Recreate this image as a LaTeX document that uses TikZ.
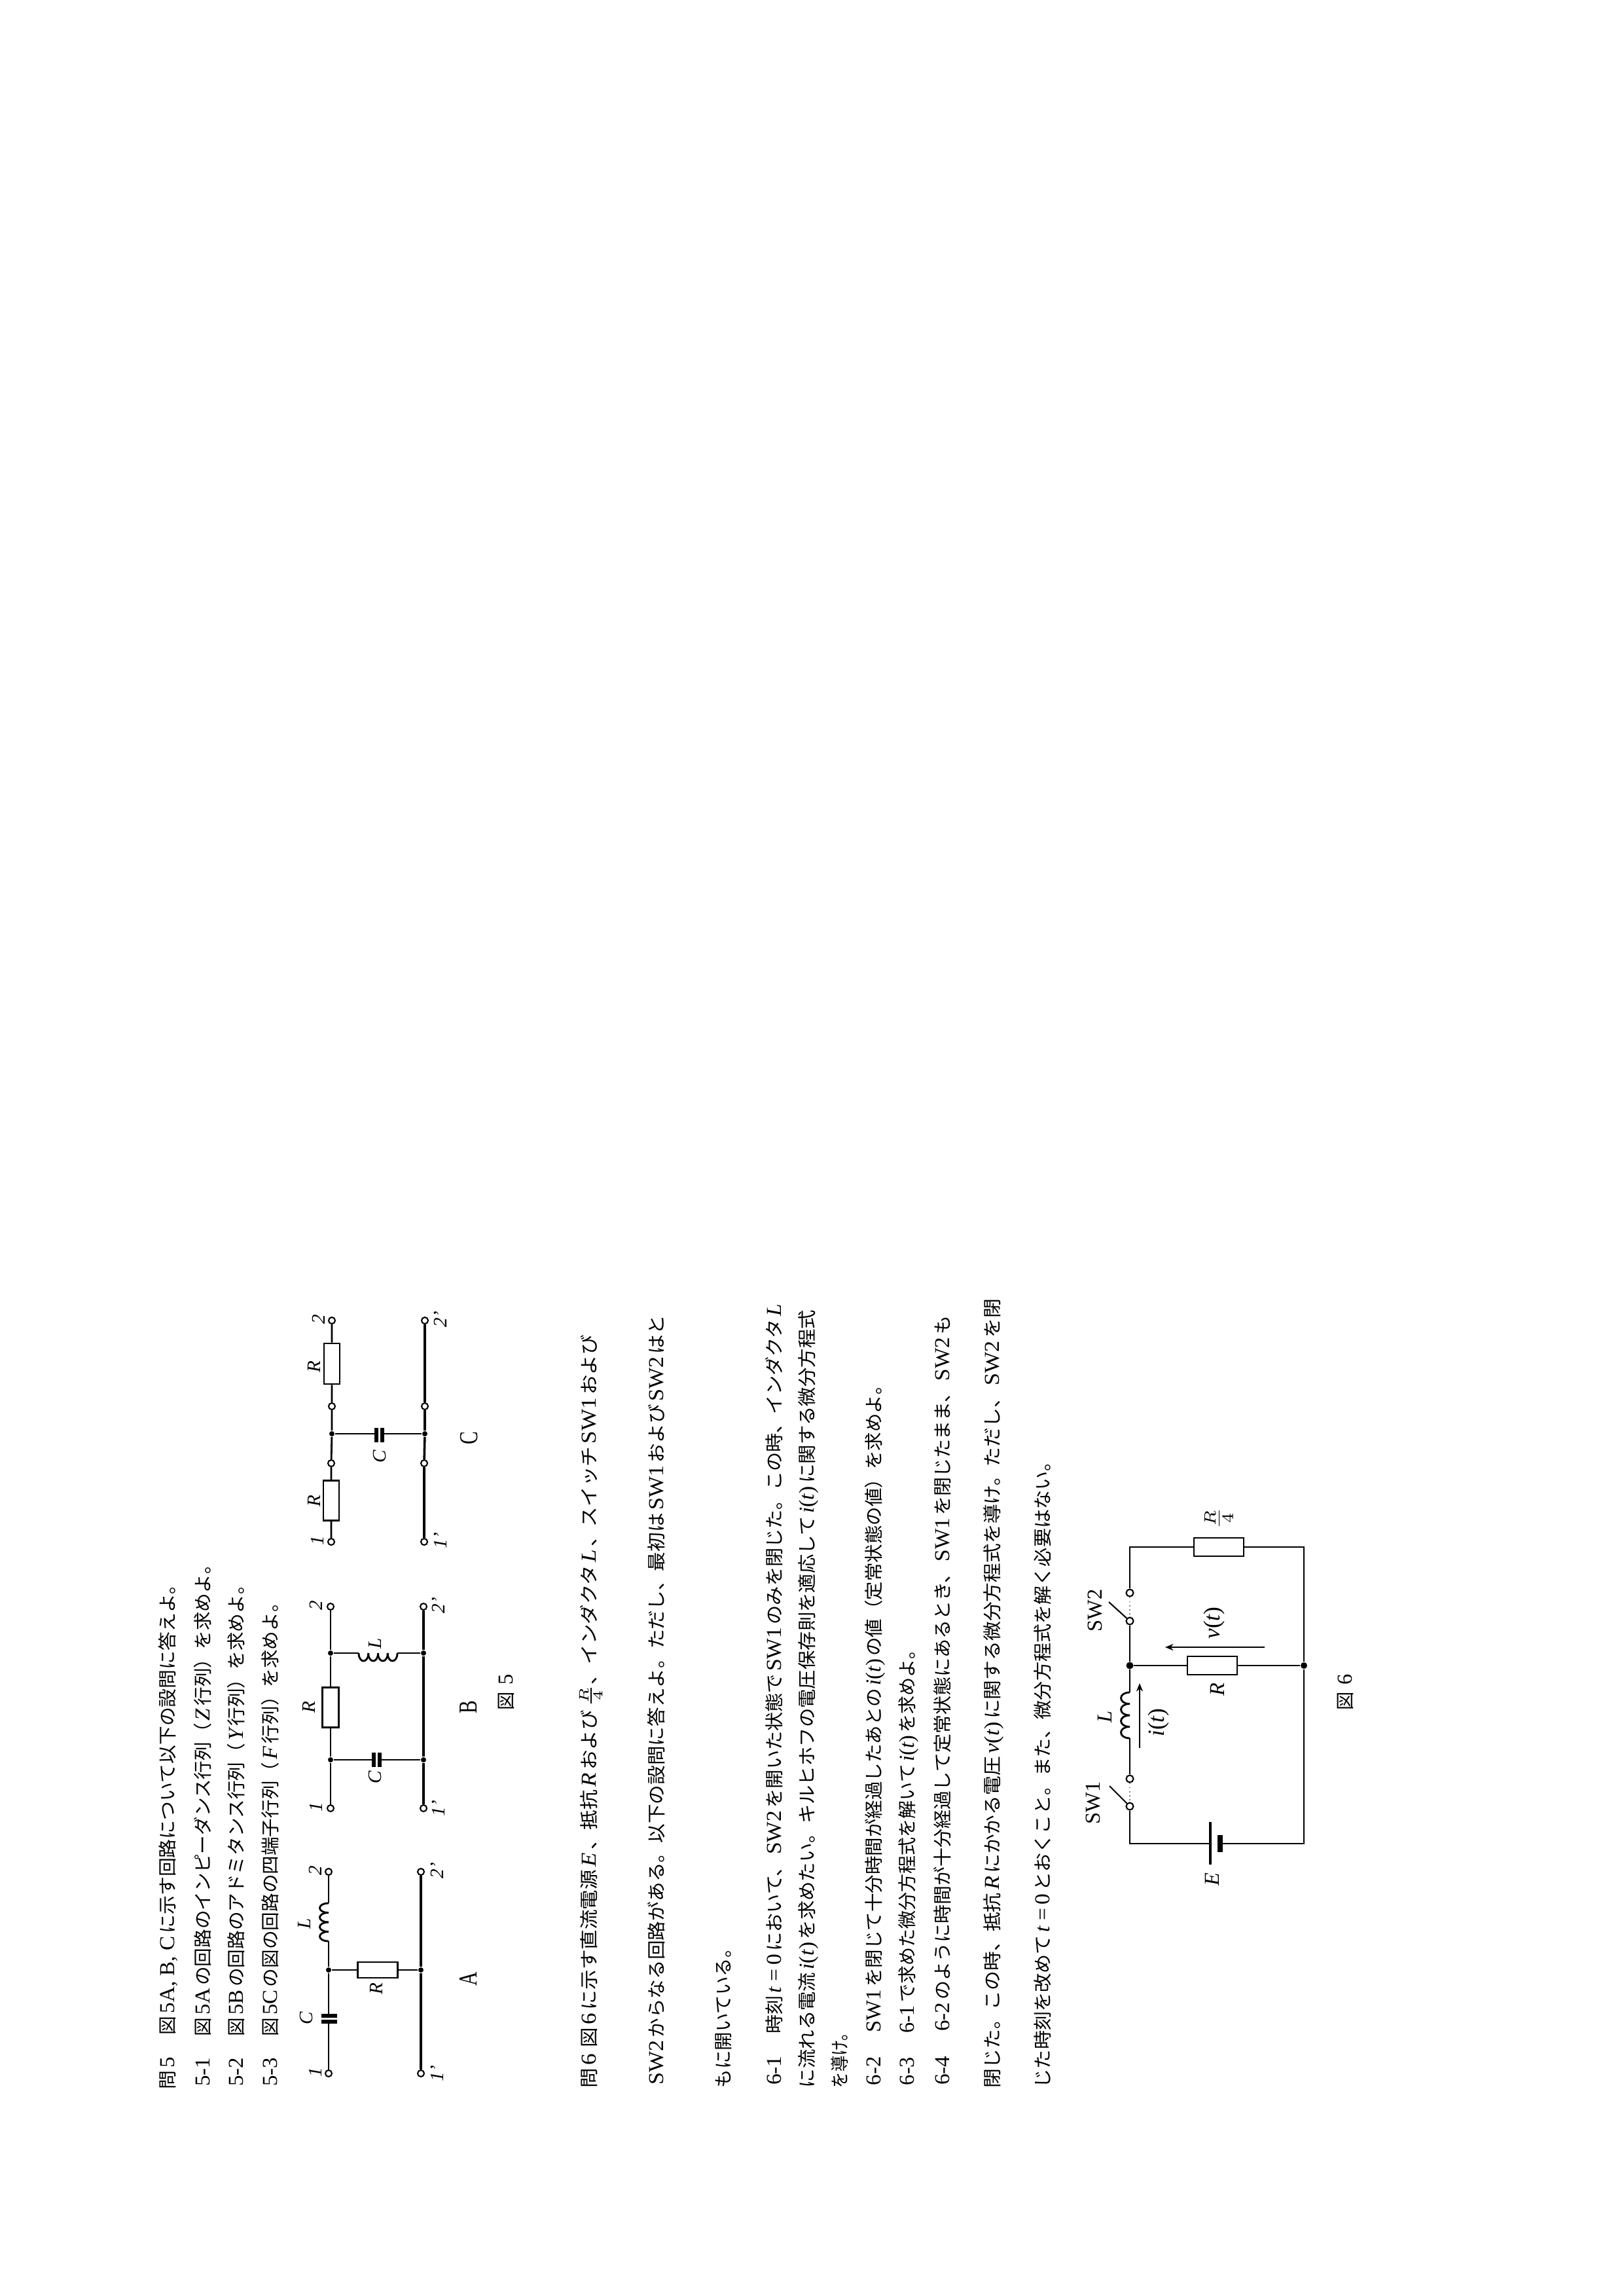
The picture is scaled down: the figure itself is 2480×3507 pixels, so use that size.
\documentclass[tikz,border=0pt]{standalone}
\usepackage{graphicx}
\usepackage{fontspec}
\usetikzlibrary{arrows.meta}
\setmainfont{Liberation Serif}
\newfontfamily\jp{Noto Sans CJK JP}
\newdimen\pxu \pxu=0.24pt
\newcommand\lat[1]{\hspace{1pt}{\rmfamily\fontsize{7.8pt}{8pt}\selectfont #1}\hspace{1pt}}
\newcommand\lit[1]{{\rmfamily\itshape #1}}
\newcommand\litx[1]{\hspace{1pt}{\rmfamily\itshape\fontsize{7.8pt}{8pt}\selectfont #1}\hspace{1pt}}
\newcommand\fn[1]{\hspace{1pt}{\rmfamily\fontsize{7.8pt}{8pt}\selectfont\textit{#1}(\textit{t})}\hspace{1pt}}
\newcommand\vcoil[5]{% x, y1, y2, n, bulge
  \pgfmathsetmacro\cw{(#3-#2)/#4}
  \foreach \i in {1,...,#4}{
    \draw[wire] ({#1},{#2+(\i-1)*\cw}) .. controls ({#1+#5},{#2+(\i-1)*\cw}) and ({#1+#5},{#2+\i*\cw}) .. ({#1},{#2+\i*\cw});
  }}
\newcommand\hcoil[5]{% y, x1, x2, n, bulge
  \pgfmathsetmacro\cw{(#3-#2)/#4}
  \foreach \i in {1,...,#4}{
    \draw[wire] ({#2+(\i-1)*\cw},{#1}) .. controls ({#2+(\i-1)*\cw},{#1+#5}) and ({#2+\i*\cw},{#1+#5}) .. ({#2+\i*\cw},{#1});
  }}
\tikzset{
  x=0.24pt,y=-0.24pt,
  txt/.style={rotate=90,anchor=west,inner sep=0pt,text height=5.4pt,text depth=1.4pt,font=\jp\fontsize{6.8pt}{6.8pt}\selectfont},
  lbl/.style={rotate=90,inner sep=0pt,font=\fontsize{7pt}{7pt}\selectfont},
  big/.style={rotate=90,inner sep=0pt,font=\fontsize{9.5pt}{9.5pt}\selectfont},
  wire/.style={line width=0.68pt,black},
  rail/.style={line width=0.85pt,black},
  rbox/.style 2 args={draw,line width=0.62pt,fill=white,inner sep=0pt,minimum width=#1\pxu,minimum height=#2\pxu},
  term/.style={circle,draw,line width=0.5pt,fill=white,inner sep=0pt,minimum size=10\pxu},
  dotn/.style={circle,fill=black,inner sep=0pt,minimum size=8\pxu},
  plate/.style={line width=1.3pt,black},
  blade/.style={line width=0.5pt,black},
  gap/.style={line width=0.45pt,gray,densely dotted},
  flow/.style={line width=0.68pt,black,-{Stealth[length=3pt,width=2.4pt]}}
}
\begin{document}
\begin{tikzpicture}
\fill[white] (0,0) rectangle (2480,3507);
\useasboundingbox (0,0) rectangle (2480,3507);

% ---- text lines
\node[txt] (t1) at (258,3192) {\resizebox{785\pxu}{\height}{問\lat{5}　図\lat{5A, B, C}に示す回路について以下の設問に答えよ。}};
\node[txt] (t2) at (312,3192) {\resizebox{815\pxu}{\height}{\lat{5-1}　図\lat{5A}の回路のインピーダンス行列（\litx{Z}行列）を求めよ。}};
\node[txt] (t3) at (363,3192) {\resizebox{784\pxu}{\height}{\lat{5-2}　図\lat{5B}の回路のアドミタンス行列（\litx{Y}行列）を求めよ。}};
\node[txt] (t4) at (415,3192) {\resizebox{757\pxu}{\height}{\lat{5-3}　図\lat{5C}の図の回路の四端子行列（\litx{F}行列）を求めよ。}};

\node[txt] (u1) at (902,3190) {\resizebox{1150\pxu}{\height}{問\lat{6}\,図\lat{6}に示す直流電源\litx{E}、抵抗\litx{R}および\,$\frac{R}{4}$、インダクタ\litx{L}、スイッチ\lat{SW1}および}};
\node[txt] (u2) at (1005,3190) {\resizebox{1180\pxu}{\height}{\lat{SW2}からなる回路がある。以下の設問に答えよ。ただし、最初は\lat{SW1}および\lat{SW2}はと}};
\node[txt] (u3) at (1107,3190) {\resizebox{227\pxu}{\height}{もに開いている。}};
\node[txt] (u4) at (1185,3190) {\resizebox{1201\pxu}{\height}{\lat{6-1}　時刻\litx{t}\lat{=\,0}において、\lat{SW2}を開いた状態で\lat{SW1}のみを閉じた。この時、インダクタ\litx{L}}};
\node[txt] (u5) at (1235,3190) {\resizebox{1188\pxu}{\height}{に流れる電流\fn{i}を求めたい。キルヒホフの電圧保存則を適応して\fn{i}に関する微分方程式}};
\node[txt] (u6) at (1285,3190) {\resizebox{96\pxu}{\height}{を導け。}};
\node[txt] (u7) at (1337,3190) {\resizebox{1087\pxu}{\height}{\lat{6-2}　\lat{SW1}を閉じて十分時間が経過したあとの\fn{i}の値（定常状態の値）を求めよ。}};
\node[txt] (u8) at (1388,3190) {\resizebox{683\pxu}{\height}{\lat{6-3}　\lat{6-1}で求めた微分方程式を解いて\fn{i}を求めよ。}};
\node[txt] (u9) at (1442,3190) {\resizebox{1180\pxu}{\height}{\lat{6-4}　\lat{6-2}のように時間が十分経過して定常状態にあるとき、\lat{SW1}を閉じたまま、\lat{SW2}も}};
\node[txt] (u10) at (1518,3190) {\resizebox{1205\pxu}{\height}{閉じた。この時、抵抗\litx{R}にかかる電圧\fn{v}に関する微分方程式を導け。ただし、\lat{SW2}を閉}};
\node[txt] (u11) at (1595,3190) {\resizebox{971\pxu}{\height}{じた時刻を改めて\litx{t}\lat{=\,0}とおくこと。また、微分方程式を解く必要はない。}};

% ---- circuit A
\node[term] (a1) at (502,3167) {};
\node[term] (a2) at (502,2859) {};
\node[term] (a1p) at (643,3167) {};
\node[term] (a2p) at (643,2859) {};
\node[dotn] (aj) at (502,3009) {};
\node[dotn] (ajp) at (643,3009) {};
\coordinate (acb) at (502,3088);
\coordinate (act) at (502,3079);
\coordinate (alb) at (502,2965);
\coordinate (alt) at (502,2907);
\node[rbox={61}{24}] (ar) at (577,3009) {};
\draw[wire] (a1) -- (acb);
\draw[wire] (act) -- (aj);
\draw[wire] (aj) -- (alb);
\vcoil{502}{2965}{2907}{4}{-18}
\draw[wire] (alt) -- (a2);
\draw[rail] (a1p) -- (ajp) -- (a2p);
\draw[wire] (aj) -- (ar);
\draw[wire] (ar) -- (ajp);
\draw[plate] (491,3088) -- (515,3088);
\draw[plate] (491,3079) -- (515,3079);
\node[lbl] (al1) at (482,3165) {\lit{1}};
\node[lbl] (al2) at (482,2857) {\lit{2}};
\node[lbl] (al1p) at (668,3167) {\lit{1'}};
\node[lbl] (al2p) at (668,2857) {\lit{2'}};
\node[lbl] (alc) at (468,3083) {\lit{C}};
\node[lbl] (all) at (465,2938) {\lit{L}};
\node[lbl] (alr) at (575,3038) {\lit{R}};
\node[big] (an) at (715,3023) {\scalebox{0.75}[1]{A}};

% ---- circuit B
\node[term] (b1) at (505,2762) {};
\node[term] (b2) at (505,2454) {};
\node[term] (b1p) at (647,2762) {};
\node[term] (b2p) at (647,2454) {};
\node[dotn] (bjc) at (505,2688) {};
\node[dotn] (bjl) at (505,2525) {};
\node[dotn] (bjcp) at (647,2688) {};
\node[dotn] (bjlp) at (647,2525) {};
\node[rbox={25}{61}] (br) at (505,2608) {};
\coordinate (bcl) at (571,2688);
\coordinate (bcr) at (580,2688);
\coordinate (bll) at (548,2525);
\coordinate (blr) at (607,2525);
\draw[wire] (b1) -- (bjc) -- (br) -- (bjl) -- (b2);
\draw[rail] (b1p) -- (bjcp) -- (bjlp) -- (b2p);
\draw[wire] (bjc) -- (bcl);
\draw[wire] (bcr) -- (bjcp);
\draw[wire] (bjl) -- (bll);
\hcoil{2525}{548}{607}{4}{16}
\draw[wire] (blr) -- (bjlp);
\draw[plate] (571,2677) -- (571,2699);
\draw[plate] (580,2677) -- (580,2699);
\node[lbl] (bl1) at (483,2760) {\lit{1}};
\node[lbl] (bl2) at (483,2452) {\lit{2}};
\node[lbl] (bl1p) at (670,2762) {\lit{1'}};
\node[lbl] (bl2p) at (670,2452) {\lit{2'}};
\node[lbl] (blc) at (573,2715) {\lit{C}};
\node[lbl] (bll2) at (573,2510) {\lit{L}};
\node[lbl] (blrr) at (472,2608) {\lit{R}};
\node[big] (bn) at (716,2608) {\scalebox{0.75}[1]{B}};
\node[txt] (fig5) at (775,2613) {図\hspace{2.6pt}{\rmfamily\fontsize{7.8pt}{8pt}\selectfont 5}};

% ---- circuit C
\node[term] (c1) at (506,2355) {};
\node[term] (c2) at (507,2017) {};
\node[term] (c1p) at (648,2355) {};
\node[term] (c2p) at (649,2017) {};
\node[term] (ci1) at (506,2235) {};
\node[term] (ci2) at (507,2148) {};
\node[term] (ci1p) at (648,2235) {};
\node[term] (ci2p) at (649,2148) {};
\node[dotn] (cj) at (507,2190) {};
\node[dotn] (cjp) at (649,2190) {};
\node[rbox={24}{62}] (cr1) at (507,2083) {};
\node[rbox={24}{61}] (cr2) at (506,2292) {};
\coordinate (ccl) at (575,2190);
\coordinate (ccr) at (584,2190);
\draw[wire] (c1) -- (cr2) -- (ci1) -- (cj) -- (ci2) -- (cr1) -- (c2);
\draw[rail] (c1p) -- (ci1p) -- (cjp) -- (ci2p) -- (c2p);
\draw[wire] (cj) -- (ccl);
\draw[wire] (ccr) -- (cjp);
\draw[plate] (575,2181) -- (575,2203);
\draw[plate] (584,2181) -- (584,2203);
\node[lbl] (cl1) at (485,2353) {\lit{1}};
\node[lbl] (cl2) at (487,2015) {\lit{2}};
\node[lbl] (cl1p) at (673,2353) {\lit{1'}};
\node[lbl] (cl2p) at (673,2015) {\lit{2'}};
\node[lbl] (clc) at (580,2225) {\lit{C}};
\node[lbl] (clr1) at (480,2088) {\lit{R}};
\node[lbl] (clr2) at (480,2293) {\lit{R}};
\node[big] (cn) at (717,2197) {\scalebox{0.75}[1]{C}};

% ---- figure 6
\coordinate (tl) at (1726,2363);
\coordinate (tr) at (1992,2363);
\coordinate (bl) at (1726,2816);
\coordinate (br6) at (1992,2816);
\node[rbox={76}{28}] (rq) at (1862,2363) {};
\node[term,minimum size=11\pxu] (s2a) at (1726,2433) {};
\node[term,minimum size=11\pxu] (s2b) at (1726,2476) {};
\node[dotn,minimum size=11\pxu] (j1) at (1726,2544) {};
\node[dotn,minimum size=10\pxu] (j2) at (1992,2544) {};
\node[rbox={76}{28}] (r6) at (1852,2544) {};
\coordinate (lt) at (1726,2585);
\coordinate (lb) at (1726,2655);
\node[term,minimum size=11\pxu] (s1a) at (1726,2717) {};
\node[term,minimum size=11\pxu] (s1b) at (1726,2759) {};
\coordinate (bat1) at (1849,2816);
\coordinate (bat2) at (1864,2816);
\coordinate (s2tip) at (1694,2447);
\coordinate (s1tip) at (1695,2728);
\draw[wire] (s2a) -- (tl) -- (rq) -- (tr) -- (j2);
\draw[wire] (s2b) -- (j1) -- (lt);
\vcoil{1726}{2585}{2655}{4}{-18}
\draw[wire] (lb) -- (s1a);
\draw[wire] (s1b) -- (bl) -- (bat1);
\draw[wire] (bat2) -- (br6) -- (j2);
\draw[wire] (j1) -- (r6);
\draw[wire] (r6) -- (j2);
\draw[gap] (s2a) -- (s2b);
\draw[gap] (s1a) -- (s1b);
\draw[blade] (s2b) -- (s2tip);
\draw[blade] (s1b) -- (s1tip);
\draw[line width=0.75pt] (1849,2783) -- (1849,2848);
\draw[line width=1.8pt] (1864,2803) -- (1864,2829);
\coordinate (vs) at (1932,2516);
\coordinate (ve) at (1780,2516);
\coordinate (is) at (1741,2670);
\coordinate (ie) at (1741,2571);
\draw[flow] (vs) -- (ve);
\draw[flow] (is) -- (ie);
\node[lbl,font=\fontsize{7.8pt}{8pt}\selectfont] (lsw2) at (1673,2460) {SW2};
\node[lbl,font=\fontsize{7.8pt}{8pt}\selectfont] (lsw1) at (1670,2754) {SW1};
\node[lbl,font=\fontsize{8.5pt}{9pt}\selectfont] (lvt) at (1855,2479) {\lit{v}(\lit{t})};
\node[lbl,font=\fontsize{8.5pt}{9pt}\selectfont] (lit) at (1770,2631) {\lit{i}(\lit{t})};
\node[lbl,font=\fontsize{7.8pt}{8pt}\selectfont] (lll) at (1688,2622) {\lit{L}};
\node[lbl,font=\fontsize{7.8pt}{8pt}\selectfont] (lrr) at (1860,2581) {\lit{R}};
\node[lbl,font=\fontsize{7.8pt}{8pt}\selectfont] (lee) at (1852,2871) {\lit{E}};
\node[lbl,font=\fontsize{8.5pt}{9pt}\selectfont] (lrq) at (1862,2319) {$\frac{R}{4}$};
\node[txt] (fig6) at (2057,2613) {図\hspace{2.6pt}{\rmfamily\fontsize{7.8pt}{8pt}\selectfont 6}};
\end{tikzpicture}
\end{document}
